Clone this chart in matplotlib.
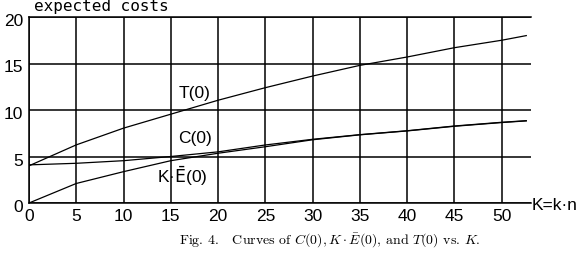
import matplotlib
matplotlib.use("Agg")
import matplotlib.pyplot as plt
from matplotlib.transforms import ScaledTranslation

plt.rcParams['mathtext.fontset'] = 'cm'

K = [0, 5, 10, 15, 20, 25, 30, 35, 40, 45, 50, 52.6]
T0 = [4.0, 6.25, 8.05, 9.55, 11.05, 12.4, 13.65, 14.8, 15.7, 16.7, 17.5, 18.0]
C0 = [4.1, 4.27, 4.55, 5.0, 5.5, 6.24, 6.85, 7.35, 7.77, 8.28, 8.68, 8.85]
KE0 = [0.0, 2.1, 3.37, 4.55, 5.35, 6.05, 6.8, 7.33, 7.75, 8.25, 8.65, 8.83]
xticks = [0, 5, 10, 15, 20, 25, 30, 35, 40, 45, 50]
yticks = [0, 5, 10, 15, 20]

fig = plt.figure(figsize=(5.86, 2.61), dpi=100)
ax = fig.add_axes([29/586, 1-203/261, 502/586, 186/261])
ax.set_xlim(0, 53.1)
ax.set_ylim(0, 20)

sans = ['Liberation Sans', 'DejaVu Sans']
lab = dict(family=sans, fontsize=12.5)
ax.set_xticks(xticks)
ax.set_yticks(yticks)
ax.set_xticklabels([str(v) for v in xticks], **lab)
ax.set_yticklabels([str(v) for v in yticks], **lab)
ax.tick_params(length=0)
ax.tick_params(axis='x', pad=4)
ax.tick_params(axis='y', pad=4)
off = ScaledTranslation(0, -3/100, fig.dpi_scale_trans)
for t in ax.get_yticklabels():
    t.set_transform(t.get_transform() + off)
ax.grid(True, color='black', lw=1.1)
for s in ['left', 'bottom', 'top']:
    ax.spines[s].set_linewidth(1.1)
ax.spines['right'].set_visible(False)

ax.plot(K, T0, color='black', lw=0.9)
ax.plot(K, C0, color='black', lw=0.9)
ax.plot(K, KE0, color='black', lw=0.9)

ax.text(15.8, 11.8, 'T(0)', ha='left', va='center', **lab)
ax.text(15.8, 6.95, 'C(0)', ha='left', va='center', **lab)
ax.text(13.5, 2.85, 'K·$\\bar{\\mathrm{E}}$(0)', ha='left', va='center',
        math_fontfamily='dejavusans', **lab)

fig.text(532/586, 1-205/261, 'K=k·n', ha='left', va='center', **lab)
fig.text(34/586, 1-11/261, 'expected costs', ha='left', va='baseline',
         family='DejaVu Sans Mono', fontsize=11.5)

fig.text(330/586, 1-244/261,
         'Fig. 4.   Curves of $C(0), K\\cdot\\bar{E}(0)$, and $T(0)$ vs. $K$.',
         ha='center', va='baseline', family='cmr10', fontsize=10)

fig.savefig('out.png', dpi=100)
